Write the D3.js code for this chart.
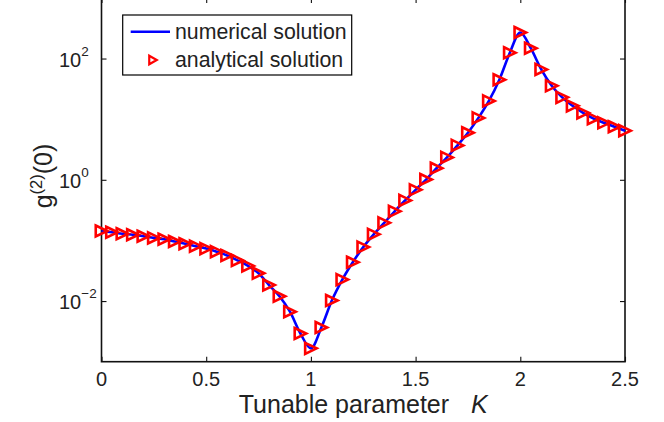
<!DOCTYPE html>
<html>
<head>
<meta charset="utf-8">
<script src="https://cdn.jsdelivr.net/npm/d3@7"></script>
<style>
  html, body { margin: 0; padding: 0; background: #fff; }
  svg { display: block; }
  text { font-family: "Liberation Sans", Arial, Helvetica, sans-serif; fill: #222; }
</style>
</head>
<body>
<svg id="chart" width="664" height="422"></svg>
<script>
// Tunable parameter K, sampled every 0.05
const kValues = [
  0.00, 0.05, 0.10, 0.15, 0.20, 0.25, 0.30, 0.35, 0.40, 0.45,
  0.50, 0.55, 0.60, 0.65, 0.70, 0.75, 0.80, 0.85, 0.90, 0.95,
  1.00, 1.05, 1.10, 1.15, 1.20, 1.25, 1.30, 1.35, 1.40, 1.45,
  1.50, 1.55, 1.60, 1.65, 1.70, 1.75, 1.80, 1.85, 1.90, 1.95,
  2.00, 2.05, 2.10, 2.15, 2.20, 2.25, 2.30, 2.35, 2.40, 2.45, 2.50
];

// Second-order correlation g2(0) from the numerical solver
const numericalG2 = [
  0.1429, 0.1365, 0.1288, 0.1242, 0.1172, 0.1102, 0.1047, 0.0959, 0.0881, 0.0805,
  0.0733, 0.0653, 0.0565, 0.0468, 0.0380, 0.0288, 0.0184, 0.0120, 0.00668, 0.00292,
  0.00166, 0.00367, 0.0102, 0.0226, 0.0437, 0.0776, 0.1259, 0.195, 0.302, 0.457,
  0.684, 1.01, 1.55, 2.34, 3.69, 5.96, 10.5, 20.0, 44.7, 124.5,
  269, 148, 66.1, 35.5, 22.9, 16.6, 12.7, 10.2, 8.71, 7.50, 6.46
];

// Closed-form g2(0) at the same K values
const analyticalG2 = [
  0.1429, 0.1365, 0.1288, 0.1242, 0.1172, 0.1102, 0.1047, 0.0959, 0.0881, 0.0805,
  0.0733, 0.0653, 0.0565, 0.0468, 0.0380, 0.0288, 0.0184, 0.0120, 0.00668, 0.00292,
  0.00166, 0.00367, 0.0102, 0.0226, 0.0437, 0.0776, 0.1259, 0.195, 0.302, 0.457,
  0.684, 1.01, 1.55, 2.34, 3.69, 5.96, 10.5, 20.0, 44.7, 124.5,
  269, 148, 66.1, 35.5, 22.9, 16.6, 12.7, 10.2, 8.71, 7.50, 6.46
];

const xTicks = [0, 0.5, 1, 1.5, 2, 2.5];
const xTickLabels = ["0", "0.5", "1", "1.5", "2", "2.5"];
const yTicks = [1e-2, 1e0, 1e2];
const yTickExponents = ["\u22122", "0", "2"];
const seriesNames = ["numerical solution", "analytical solution"];

const svg = d3.select("#chart");
svg.append("rect").attr("width", 664).attr("height", 422).attr("fill", "#fff");

const plot = { left: 101.5, right: 625, top: -2.1, bottom: 361.7 };

const x = d3.scaleLinear().domain([0, 2.5]).range([plot.left, plot.right]);
const y = d3.scaleLog().domain([1e-3, 1e3]).range([plot.bottom, plot.top]);

const axisColor = "#111";
const axisWidth = 1.6;

// inward ticks on all four sides
const tickLen = 5;
const gx = svg.append("g").attr("transform", `translate(0,${plot.bottom})`)
  .call(d3.axisBottom(x).tickValues(xTicks).tickSize(-tickLen).tickFormat(""));
const gxTop = svg.append("g").attr("transform", `translate(0,${plot.top})`)
  .call(d3.axisTop(x).tickValues(xTicks).tickSize(-tickLen).tickFormat(""));
const gy = svg.append("g").attr("transform", `translate(${plot.left},0)`)
  .call(d3.axisLeft(y).tickValues(yTicks).tickSize(-tickLen).tickFormat(""));
const gyRight = svg.append("g").attr("transform", `translate(${plot.right},0)`)
  .call(d3.axisRight(y).tickValues(yTicks).tickSize(-tickLen).tickFormat(""));

[gx, gxTop, gy, gyRight].forEach(g => {
  g.select(".domain").remove();
  g.selectAll(".tick line").attr("stroke", axisColor).attr("stroke-width", 1.1);
});

// axes box
svg.append("rect")
  .attr("x", plot.left).attr("y", plot.top)
  .attr("width", plot.right - plot.left).attr("height", plot.bottom - plot.top)
  .attr("fill", "none").attr("stroke", axisColor).attr("stroke-width", axisWidth);

// x tick labels
svg.append("g").selectAll("text").data(xTicks).join("text")
  .attr("x", d => x(d)).attr("y", plot.bottom + 23.8)
  .attr("text-anchor", "middle").attr("font-size", 20)
  .text((d, i) => xTickLabels[i]);

// y tick labels as powers of ten
const yl = svg.append("g").selectAll("text").data(yTicks).join("text")
  .attr("x", 59).attr("y", d => y(d) + 8)
  .attr("font-size", 20);
yl.append("tspan").text("10");
yl.append("tspan").attr("dy", -11).attr("font-size", 13.5)
  .text((d, i) => yTickExponents[i]);

// axis titles
const xTitle = svg.append("text")
  .attr("x", (plot.left + plot.right) / 2).attr("y", 413)
  .attr("text-anchor", "middle").attr("font-size", 25);
xTitle.append("tspan").text("Tunable parameter");
xTitle.append("tspan").attr("dx", 22).attr("font-style", "italic").text("K");

const yTitle = svg.append("text")
  .attr("transform", `translate(52,176) rotate(-90)`)
  .attr("text-anchor", "middle").attr("font-size", 25);
yTitle.append("tspan").text("g");
yTitle.append("tspan").attr("dy", -10.5).attr("font-size", 16.5).text("(2)");
yTitle.append("tspan").attr("dy", 10.5).text("(0)");

const numericalPts = kValues.map((k, i) => [k, numericalG2[i]]);
const analyticalPts = kValues.map((k, i) => [k, analyticalG2[i]]);

const line = d3.line()
  .x(d => x(d[0])).y(d => y(d[1]))
  .curve(d3.curveMonotoneX);

svg.append("path")
  .datum(numericalPts)
  .attr("d", line)
  .attr("fill", "none").attr("stroke", "#0000ff").attr("stroke-width", 2.6)
  .attr("stroke-linejoin", "round");

// right-pointing open triangle marker
const tri = (cx, cy, w, h) =>
  `M${cx - w / 2},${cy - h / 2}L${cx + w / 2},${cy}L${cx - w / 2},${cy + h / 2}Z`;
const markerW = 11.5, markerH = 11;

svg.append("g").selectAll("path").data(analyticalPts).join("path")
  .attr("d", d => tri(x(d[0]), y(d[1]), markerW, markerH))
  .attr("fill", "none").attr("stroke", "#ff0000").attr("stroke-width", 2.6)
  .attr("stroke-linejoin", "miter");

// legend
const lg = svg.append("g");
lg.append("rect")
  .attr("x", 122.7).attr("y", 15).attr("width", 229).attr("height", 60)
  .attr("fill", "#fff").attr("stroke", "#000").attr("stroke-width", 1.2);
lg.append("line")
  .attr("x1", 130.7).attr("x2", 170).attr("y1", 31.7).attr("y2", 31.7)
  .attr("stroke", "#0000ff").attr("stroke-width", 2.6);
lg.append("path")
  .attr("d", tri(153, 60, 7.5, 8.5))
  .attr("fill", "none").attr("stroke", "#ff0000").attr("stroke-width", 2.2);
lg.selectAll("text.lbl").data(seriesNames).join("text")
  .attr("class", "lbl")
  .attr("x", 175).attr("y", (d, i) => 39.3 + i * 28)
  .attr("font-size", 21.3)
  .text(d => d);
</script>
</body>
</html>
